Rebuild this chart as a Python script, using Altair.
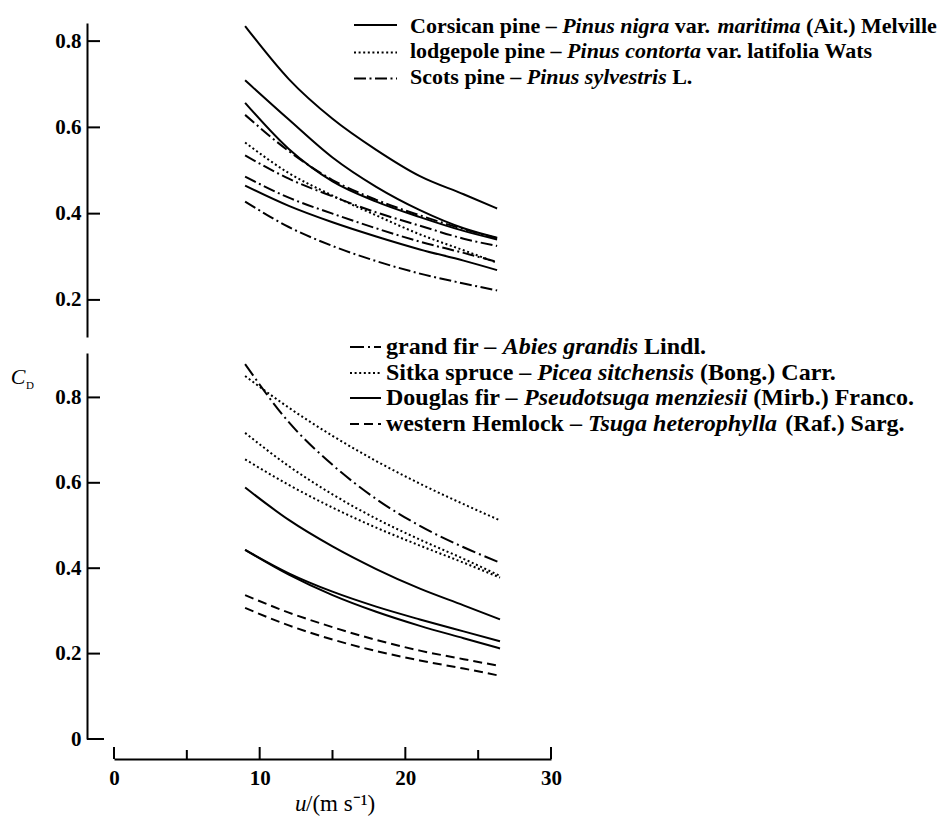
import altair as alt
import pandas as pd

# ---------------- data ----------------
u_top = [9, 12, 15, 18, 21, 24, 26.3]
u_bottom = [9, 12, 15, 18, 21, 24, 26.5]

# upper panel: Corsican pine (solid), lodgepole pine (dotted), Scots pine (dash-dot)
corsican_1 = [0.835, 0.712, 0.620, 0.548, 0.487, 0.445, 0.412]
corsican_2 = [0.709, 0.618, 0.530, 0.462, 0.408, 0.366, 0.344]
corsican_3 = [0.657, 0.550, 0.475, 0.428, 0.392, 0.360, 0.340]
corsican_4 = [0.465, 0.418, 0.380, 0.347, 0.317, 0.291, 0.269]
lodgepole_1 = [0.565, 0.494, 0.442, 0.396, 0.352, 0.315, 0.286]
scots_1 = [0.629, 0.545, 0.478, 0.432, 0.396, 0.364, 0.343]
scots_2 = [0.535, 0.481, 0.440, 0.403, 0.372, 0.342, 0.325]
scots_3 = [0.486, 0.437, 0.400, 0.366, 0.335, 0.309, 0.288]
scots_4 = [0.428, 0.369, 0.325, 0.290, 0.261, 0.238, 0.222]

# lower panel: grand fir (dash-dot), Sitka spruce (dotted), Douglas fir (solid), western hemlock (dashed)
grand_fir_1 = [0.878, 0.742, 0.642, 0.562, 0.499, 0.449, 0.413]
sitka_1 = [0.850, 0.776, 0.710, 0.651, 0.598, 0.550, 0.512]
sitka_2 = [0.717, 0.639, 0.573, 0.516, 0.467, 0.422, 0.382]
sitka_3 = [0.655, 0.595, 0.542, 0.495, 0.453, 0.413, 0.378]
douglas_1 = [0.589, 0.513, 0.451, 0.398, 0.352, 0.313, 0.280]
douglas_2 = [0.443, 0.388, 0.345, 0.310, 0.280, 0.252, 0.229]
douglas_3 = [0.443, 0.385, 0.337, 0.298, 0.265, 0.236, 0.212]
hemlock_1 = [0.337, 0.296, 0.262, 0.232, 0.207, 0.187, 0.171]
hemlock_2 = [0.307, 0.266, 0.233, 0.206, 0.184, 0.165, 0.148]

top_ticks = [0.2, 0.4, 0.6, 0.8]
bottom_ticks = [0.2, 0.4, 0.6, 0.8]
zero_tick = [0]
x_major = [0, 10, 20, 30]
x_minor = [5, 15, 25]

top_legend = [
    [("Corsican pine – ", "n"), ("Pinus nigra", "i"), (" var. ", "n"), ("maritima", "i"), (" (Ait.) Melville", "n")],
    [("lodgepole pine – ", "n"), ("Pinus contorta", "i"), (" var. latifolia Wats", "n")],
    [("Scots pine – ", "n"), ("Pinus sylvestris", "i"), (" L.", "n")],
]
bottom_legend = [
    [("grand fir – ", "n"), ("Abies grandis", "i"), (" Lindl.", "n")],
    [("Sitka spruce – ", "n"), ("Picea sitchensis", "i"), (" (Bong.) Carr.", "n")],
    [("Douglas fir – ", "n"), ("Pseudotsuga menziesii", "i"), (" (Mirb.) Franco.", "n")],
    [("western Hemlock – ", "n"), ("Tsuga heterophylla", "i"), (" (Raf.) Sarg.", "n")],
]

# ---------------- styling ----------------
FONT = "Liberation Serif"
W = 437
H_TOP = 314
H_BOT = 386
XS = alt.Scale(domain=[0, 30], nice=False, zero=False)
YS_TOP = alt.Scale(domain=[0.114, 0.842], nice=False, zero=False)
YS_BOT = alt.Scale(domain=[0, 0.904], nice=False, zero=False)

SOLID = None
DOT = [2, 2.6]
DASHDOT_TOP = [12, 3.5, 2, 3.5]
DASHDOT_BOT = [14, 4, 2, 4]
DASHED = [9, 5]

# approximate glyph widths (per 1000 em) for a bold Times-like face
TB = {" ": 250, "(": 333, ")": 333, ".": 250, "–": 500, "-": 333,
      "A": 722, "B": 667, "C": 722, "D": 722, "F": 611, "H": 778, "L": 667, "M": 944,
      "P": 611, "R": 722, "S": 556, "T": 667, "W": 1000,
      "a": 500, "b": 556, "c": 444, "d": 556, "e": 444, "f": 333, "g": 500, "h": 556,
      "i": 278, "j": 333, "k": 556, "l": 278, "m": 833, "n": 556, "o": 500, "p": 556,
      "q": 556, "r": 444, "s": 389, "t": 333, "u": 556, "v": 500, "w": 722, "x": 500,
      "y": 500, "z": 444}
TBI = {" ": 250, "A": 667, "P": 611, "T": 611, "S": 556,
       "a": 500, "b": 500, "c": 444, "d": 500, "e": 444, "f": 333, "g": 500, "h": 556,
       "i": 278, "j": 278, "k": 500, "l": 278, "m": 778, "n": 556, "o": 500, "p": 500,
       "q": 500, "r": 389, "s": 389, "t": 278, "u": 556, "v": 444, "w": 667, "x": 500,
       "y": 444, "z": 389}


def text_width(s, style, size):
    table = TBI if style == "i" else TB
    return sum(table.get(ch, 500) for ch in s) / 1000.0 * size


def curves(u, series, dash, ys, y_axis, x_axis):
    rows = [{"u": x, "cd": v, "s": name} for name, vals in series.items() for x, v in zip(u, vals)]
    df = pd.DataFrame(rows)
    kw = dict(color="black", strokeWidth=2, interpolate="monotone", strokeCap="butt")
    if dash is not None:
        kw["strokeDash"] = dash
    return alt.Chart(df).mark_line(**kw).encode(
        x=alt.X("u:Q", scale=XS, axis=x_axis),
        y=alt.Y("cd:Q", scale=ys, axis=y_axis),
        detail="s:N",
    )


def y_tick_rules(values, ys, y_axis, x1, x2):
    return alt.Chart(pd.DataFrame({"cd": values})).mark_rule(color="black", strokeWidth=2).encode(
        y=alt.Y("cd:Q", scale=ys, axis=y_axis), x=alt.value(x1), x2=alt.value(x2))


def legend_layers(rows, x_line0, x_line1, x_text, y_lines, y_base, dashes, size):
    layers = []
    one = pd.DataFrame({"a": [0]})
    space = TB[" "] / 1000.0 * size
    for row, yl, yb, dash in zip(rows, y_lines, y_base, dashes):
        kw = dict(color="black", strokeWidth=2, strokeCap="butt")
        if dash is not None:
            kw["strokeDash"] = dash
        layers.append(alt.Chart(one).mark_rule(**kw).encode(
            x=alt.value(x_line0), x2=alt.value(x_line1), y=alt.value(yl)))
        xpos = x_text
        for seg, style in row:
            lead = len(seg) - len(seg.lstrip(" "))
            trail = len(seg) - len(seg.rstrip(" "))
            core = seg.strip(" ")
            xpos += lead * space
            layers.append(alt.Chart(one).mark_text(
                text=core, font=FONT, fontSize=size, fontWeight="bold",
                fontStyle="italic" if style == "i" else "normal",
                align="left", baseline="alphabetic", color="black").encode(
                x=alt.value(xpos), y=alt.value(yb)))
            xpos += text_width(core, style, size) + trail * space
    return layers


y_axis_common = dict(offset=27, tickSize=0, domainColor="black", domainWidth=2,
                     labelFont=FONT, labelFontSize=21, labelFontWeight="bold",
                     labelColor="black", labelPadding=6, grid=False, title=None)

top_y_axis = alt.Axis(values=top_ticks, format=".1f", **y_axis_common)
bot_y_axis = alt.Axis(values=[0] + bottom_ticks,
                      labelExpr="datum.value == 0 ? '0' : format(datum.value, '.1f')",
                      **y_axis_common)
bot_x_axis = alt.Axis(values=x_major, offset=20, tickSize=0, domainColor="black", domainWidth=2,
                      labelFont=FONT, labelFontSize=21, labelFontWeight="bold", labelColor="black",
                      labelPadding=8, labelFlush=False, grid=False, title=None)

# ---------------- upper panel ----------------
top_layers = [
    curves(u_top, {"c1": corsican_1, "c2": corsican_2, "c3": corsican_3, "c4": corsican_4},
           SOLID, YS_TOP, top_y_axis, None),
    curves(u_top, {"l1": lodgepole_1}, DOT, YS_TOP, top_y_axis, None),
    curves(u_top, {"s1": scots_1, "s2": scots_2, "s3": scots_3, "s4": scots_4}, DASHDOT_TOP,
           YS_TOP, top_y_axis, None),
    y_tick_rules(top_ticks, YS_TOP, top_y_axis, -27, -14),
]
top_layers += legend_layers(top_legend, 240, 283, 296, [2, 29.5, 55.5], [9.5, 35, 61],
                            [SOLID, DOT, DASHDOT_TOP], 22)
top = alt.layer(*top_layers).properties(width=W, height=H_TOP)

# ---------------- lower panel ----------------
one = pd.DataFrame({"a": [0]})
bot_layers = [
    curves(u_bottom, {"g1": grand_fir_1}, DASHDOT_BOT, YS_BOT, bot_y_axis, bot_x_axis),
    curves(u_bottom, {"k1": sitka_1, "k2": sitka_2, "k3": sitka_3}, DOT, YS_BOT, bot_y_axis, bot_x_axis),
    curves(u_bottom, {"d1": douglas_1, "d2": douglas_2, "d3": douglas_3}, SOLID, YS_BOT, bot_y_axis, bot_x_axis),
    curves(u_bottom, {"h1": hemlock_1, "h2": hemlock_2}, DASHED, YS_BOT, bot_y_axis, bot_x_axis),
    y_tick_rules(bottom_ticks, YS_BOT, bot_y_axis, -27, -14),
    y_tick_rules(zero_tick, YS_BOT, bot_y_axis, -27, -10),
    alt.Chart(pd.DataFrame({"u": x_major})).mark_rule(color="black", strokeWidth=2).encode(
        x=alt.X("u:Q", scale=XS, axis=bot_x_axis), y=alt.value(H_BOT + 20), y2=alt.value(H_BOT + 8)),
    alt.Chart(pd.DataFrame({"u": x_minor})).mark_rule(color="black", strokeWidth=2).encode(
        x=alt.X("u:Q", scale=XS, axis=bot_x_axis), y=alt.value(H_BOT + 20), y2=alt.value(H_BOT + 11)),
    # C_D label
    alt.Chart(one).mark_text(text="C", font=FONT, fontSize=22, fontStyle="italic",
                             align="center", baseline="alphabetic", color="black").encode(
        x=alt.value(-96), y=alt.value(31)),
    alt.Chart(one).mark_text(text="D", font=FONT, fontSize=11,
                             align="center", baseline="alphabetic", color="black").encode(
        x=alt.value(-84), y=alt.value(36)),
    # x-axis title u/(m s-1)
    alt.Chart(one).mark_text(text="u", font=FONT, fontSize=23, fontStyle="italic",
                             align="left", baseline="alphabetic", color="black").encode(
        x=alt.value(181), y=alt.value(458)),
    alt.Chart(one).mark_text(text="/(m  s⁻¹)", font=FONT, fontSize=23,
                             align="left", baseline="alphabetic", color="black").encode(
        x=alt.value(192), y=alt.value(458)),
]
bot_layers += legend_layers(bottom_legend, 236, 267, 272, [-6, 20, 45, 71], [1, 27, 52, 78],
                            [DASHDOT_BOT, DOT, SOLID, DASHED], 24)
bottom = alt.layer(*bot_layers).properties(width=W, height=H_BOT)

chart = alt.vconcat(top, bottom, spacing=16, bounds="flush").properties(
    padding={"left": 2, "top": 6, "right": 0, "bottom": 0},
    background="white",
).configure_view(strokeWidth=0)

chart.save("out.html", embed_options={"renderer": "svg", "actions": False})
